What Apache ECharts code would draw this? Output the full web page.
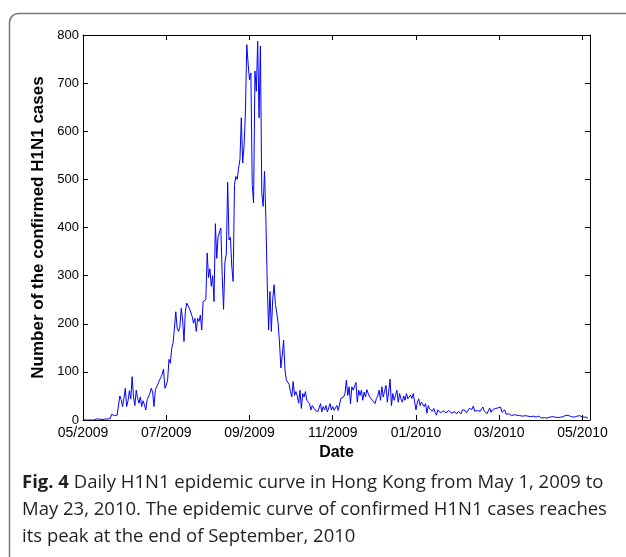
<!DOCTYPE html>
<html>
<head>
<meta charset="utf-8">
<script src="https://cdn.jsdelivr.net/npm/echarts@6/dist/echarts.min.js"></script>
<style>
  html, body { margin: 0; padding: 0; background: #fff; }
  #chart { width: 626px; height: 557px; }
</style>
</head>
<body>
<div id="chart"></div>
<script>
// Daily confirmed H1N1 cases, Hong Kong, starting 1 May 2009 (day 0)
const dailyCases = [
  0, 0, 0, 0, 0, 1, 0, 0, 0, 1, 2, 3, 2, 1, 1, 1, 2, 1, 2, 2,
  3, 12, 8, 9, 8, 10, 12, 50, 42, 28, 45, 66, 28, 40, 61, 44, 90, 48, 30, 62,
  45, 35, 48, 28, 40, 32, 21, 42, 45, 55, 66, 58, 28, 63, 66, 75, 83, 88, 95, 106,
  66, 72, 83, 126, 118, 149, 160, 191, 225, 191, 184, 194, 232, 208, 163, 225, 243, 246, 232, 229,
  215, 201, 211, 184, 211, 205, 218, 187, 246, 246, 250, 347, 296, 314, 278, 300, 246, 408, 336, 381,
  380, 399, 300, 230, 329, 345, 494, 374, 380, 320, 288, 489, 506, 500, 523, 541, 628, 534, 569, 638,
  780, 740, 707, 721, 489, 451, 725, 683, 787, 628, 777, 472, 444, 517, 418, 284, 187, 267, 184, 250,
  281, 240, 222, 201, 160, 108, 135, 166, 104, 83, 87, 74, 59, 48, 80, 51, 59, 50, 35, 62,
  24, 55, 48, 59, 41, 43, 34, 21, 30, 28, 21, 24, 17, 25, 34, 17, 28, 21, 30, 17,
  25, 34, 21, 28, 20, 25, 30, 20, 17, 45, 42, 48, 55, 83, 51, 69, 34, 69, 62, 65,
  78, 37, 62, 51, 62, 41, 58, 48, 63, 55, 48, 44, 41, 37, 34, 45, 50, 62, 41, 69,
  48, 60, 72, 37, 58, 85, 30, 55, 41, 51, 62, 37, 55, 44, 37, 50, 41, 55, 44, 48,
  52, 45, 55, 38, 21, 37, 44, 30, 37, 41, 28, 34, 14, 30, 23, 21, 18, 24, 16, 10,
  21, 17, 15, 17, 19, 16, 15, 14, 20, 17, 14, 12, 17, 15, 13, 18, 16, 13, 21, 17,
  20, 15, 12, 24, 26, 22, 29, 18, 15, 20, 24, 18, 22, 27, 19, 23, 13, 19, 25, 16,
  21, 17, 24, 27, 25, 29, 27, 16, 19, 21, 12, 15, 13, 15, 9, 12, 11, 8, 10, 12,
  9, 7, 8, 6, 9, 7, 8, 5, 7, 6, 8, 7, 6, 5, 8, 6, 4, 7, 5, 6,
  4, 8, 6, 5, 7, 4, 6, 8, 5, 7, 6, 8, 7, 9, 10, 8, 9, 11, 7, 9,
  6, 5, 8, 7, 9, 5, 6, 4, 6, 3, 4
];

// Date labels placed every 61 days along the day axis
const dateTickLabels = ['05/2009', '07/2009', '09/2009', '11/2009', '01/2010', '03/2010', '05/2010'];
const tickStepDays = 61;
const yTicks = { min: 0, max: 800, step: 100 };

const seriesData = dailyCases.map((v, i) => [i, v]);

const labelFamily = 'Liberation Sans, Arial, sans-serif';

function dateLabel(value) {
  if (value % tickStepDays !== 0) return '';
  const idx = value / tickStepDays;
  return dateTickLabels[idx] || '';
}

const chart = echarts.init(document.getElementById('chart'), null, { renderer: 'canvas' });

const xBase = {
  type: 'value',
  min: 0,
  max: 371.5,
  interval: tickStepDays,
  splitLine: { show: false },
  axisLine: { show: true, onZero: false, lineStyle: { color: '#000', width: 1 } },
  axisTick: { show: true, inside: true, length: 5, lineStyle: { color: '#000' } }
};
const yBase = {
  type: 'value',
  min: yTicks.min,
  max: yTicks.max,
  interval: yTicks.step,
  splitLine: { show: false },
  axisLine: { show: true, onZero: false, lineStyle: { color: '#000', width: 1 } },
  axisTick: { show: true, inside: true, length: 5, lineStyle: { color: '#000' } }
};

chart.setOption({
  animation: false,
  backgroundColor: '#fff',
  grid: { left: 83, top: 35, right: 36, bottom: 137, containLabel: false },
  xAxis: [
    Object.assign({}, xBase, {
      position: 'bottom',
      name: 'Date',
      nameLocation: 'middle',
      nameGap: 23,
      nameTextStyle: { fontFamily: labelFamily, fontSize: 16, fontWeight: 'bold', color: '#000' },
      axisLabel: { margin: 6, formatter: dateLabel, showMaxLabel: false, fontFamily: labelFamily, fontSize: 14, color: '#000' }
    }),
    Object.assign({}, xBase, {
      position: 'top',
      axisLabel: { show: false }
    })
  ],
  yAxis: [
    Object.assign({}, yBase, {
      position: 'left',
      name: 'Number of the confirmed H1N1 cases',
      nameLocation: 'middle',
      nameGap: 31,
      nameTextStyle: { fontFamily: labelFamily, fontSize: 17, fontWeight: 'bold', color: '#000' },
      axisLabel: { margin: 4, fontFamily: labelFamily, fontSize: 13, color: '#000' }
    }),
    Object.assign({}, yBase, {
      position: 'right',
      axisLabel: { show: false }
    })
  ],
  series: [{
    type: 'line',
    data: seriesData,
    xAxisIndex: 0,
    yAxisIndex: 0,
    showSymbol: false,
    lineStyle: { color: '#0000ff', width: 1 },
    itemStyle: { color: '#0000ff' }
  }],
  graphic: [
    {
      type: 'rect',
      left: 7, top: 11,
      shape: { x: 0, y: 0, width: 700, height: 600, r: [9, 0, 0, 0] },
      style: { fill: 'none', stroke: '#777', lineWidth: 1.5 },
      silent: true
    },
    {
      type: 'text',
      left: 22, top: 469,
      style: {
        text: '{b|Fig. 4} Daily H1N1 epidemic curve in Hong Kong from May 1, 2009 to\nMay 23, 2010. The epidemic curve of confirmed H1N1 cases reaches\nits peak at the end of September, 2010',
        fontFamily: 'Open Sans, Noto Sans, sans-serif',
        fontSize: 18.5,
        lineHeight: 27,
        fill: '#231f20',
        rich: {
          b: { fontFamily: 'Open Sans, Noto Sans, sans-serif', fontSize: 18.5, fontWeight: 'bold', fill: '#231f20', lineHeight: 27 }
        }
      }
    }
  ]
});
</script>
</body>
</html>
